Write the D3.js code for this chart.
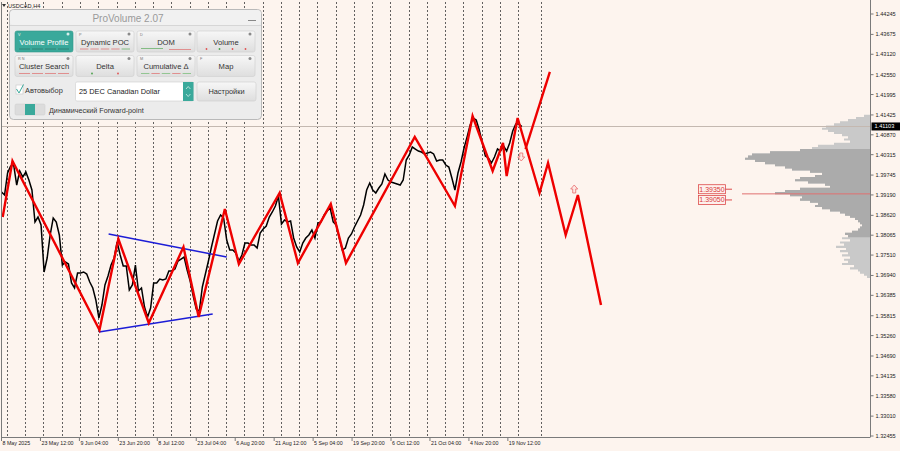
<!DOCTYPE html>
<html>
<head>
<meta charset="utf-8">
<script src="https://cdn.jsdelivr.net/npm/d3@7"></script>
<style>
  body { margin: 0; background: #fdf4ee; }
  svg { display: block; font-family: "Liberation Sans", Arial, sans-serif; }
</style>
</head>
<body>
<svg id="chart" width="900" height="451"></svg>
<script>
// USDCAD H4 with zigzag + ProVolume overlay

const symbolName = "USDCAD,H4";

const barStep = 5;
const closes = [
  1.39272, 1.39188, 1.39803, 1.39998, 1.40026, 1.39467, 1.39859, 1.39691, 1.39831, 1.39607,
  1.39328, 1.38434, 1.38573, 1.38350, 1.37037, 1.37428, 1.38071, 1.38546, 1.38434, 1.38071,
  1.37232, 1.37316, 1.37260, 1.36730, 1.36590, 1.37009, 1.37009, 1.37037, 1.36981, 1.36758,
  1.36590, 1.36255, 1.35752, 1.36115, 1.36674, 1.36925, 1.37232, 1.37428, 1.37875, 1.37512,
  1.37205, 1.37205, 1.36534, 1.36674, 1.37232, 1.36506, 1.36590, 1.36059, 1.35780, 1.36031,
  1.36730, 1.36730, 1.36841, 1.36813, 1.36841, 1.37065, 1.37065, 1.37121, 1.37344, 1.37400,
  1.37456, 1.37093, 1.36785, 1.36366, 1.36003, 1.35947, 1.36618, 1.36981, 1.37344, 1.37735,
  1.38099, 1.38462, 1.38629, 1.38546, 1.37931, 1.37652, 1.37652, 1.37568, 1.37344, 1.37512,
  1.37847, 1.37847, 1.37791, 1.37791, 1.37707, 1.38126, 1.38238, 1.38322, 1.38573, 1.38713,
  1.38881, 1.39160, 1.38378, 1.38490, 1.38434, 1.38462, 1.37987, 1.37735, 1.37596, 1.37847,
  1.37987, 1.38071, 1.38210, 1.37987, 1.38406, 1.38434, 1.38629, 1.38741, 1.38825, 1.38434,
  1.38350, 1.37987, 1.37652, 1.37707, 1.37987, 1.38099, 1.38294, 1.38462, 1.38629, 1.38909,
  1.39328, 1.39523, 1.39328, 1.39244, 1.39384, 1.39495, 1.39775, 1.39607, 1.39551, 1.39523,
  1.39495, 1.39467, 1.39607, 1.40166, 1.40306, 1.40529, 1.40473, 1.40417, 1.40389, 1.40334,
  1.40361, 1.40389, 1.40334, 1.40138, 1.40166, 1.40166, 1.40026, 1.39970, 1.39663, 1.39328,
  1.39803, 1.40110, 1.40501, 1.40809, 1.41144, 1.41339, 1.41283, 1.41004, 1.40641, 1.40278,
  1.40222, 1.40082, 1.40250, 1.40473, 1.40417, 1.40557, 1.40417, 1.40641, 1.40976, 1.41172,
  1.41172, 1.41103
];

// zigzag pivots [bar, price], incl. the projected forward legs
const zigzag = [
  [2, 1.38573], [18, 1.40138], [161, 1.35416], [192, 1.37959], [242, 1.35612],
  [299, 1.37735], [324, 1.35780], [367, 1.38797], [390, 1.37260], [457, 1.39244],
  [487, 1.37288], [541, 1.38937], [566, 1.37288], [679, 1.40809], [745, 1.38881],
  [774, 1.41395], [807, 1.39859], [824, 1.40641], [830, 1.39719], [848, 1.41339],
  [884, 1.39244], [898, 1.40082], [927, 1.38071], [947, 1.39188], [985, 1.36115]
];
const forwardUp = [[861, 1.40473], [901, 1.42625]];
const wedgeUpper = [[176, 1.38099], [370, 1.37456]];
const wedgeLower = [[160, 1.35360], [347, 1.35864]];
const signalUp = [854, 1.40250];
const signalDown = [941, 1.39356];

const priceTicks = [
  1.44245, 1.43675, 1.43120, 1.42550, 1.41995, 1.41425, 1.40870, 1.40315, 1.39745, 1.39190,
  1.38620, 1.38065, 1.37510, 1.36940, 1.36385, 1.35815, 1.35260, 1.34690, 1.34135, 1.33580,
  1.33010, 1.32455
];
const timeLabels = [
  "8 May 2025", "23 May 12:00", "9 Jun 04:00", "23 Jun 20:00", "8 Jul 12:00", "23 Jul 04:00",
  "6 Aug 20:00", "21 Aug 12:00", "5 Sep 04:00", "19 Sep 20:00", "6 Oct 12:00", "21 Oct 04:00",
  "4 Nov 20:00", "19 Nov 12:00"
];
const barsPerLabel = 64;
const barsPerWeek = 30;
const firstWeekBar = 9;
const weekCount = 29;
const lastSeparatorBar = 887;
const totalBars = 1427;

const currentPrice = 1.41103;
const levelLabels = [1.39350, 1.39050];

// volume profile, from the top level down
const profileTop = 1.4140;
const profileStep = 0.0006;
const profileVolumes = [
  6, 14, 22, 30, 36, 44, 48, 42, 36, 28, 22, 26, 20, 36, 52, 58, 70, 100, 118, 122,
  125, 115, 105, 95, 85, 78, 60, 48, 55, 70, 75, 62, 45, 40, 70, 85, 95, 80, 68, 70,
  60, 52, 55, 48, 40, 30, 25, 20, 15, 12, 10, 8, 10, 12, 18, 25, 22, 28, 20, 30,
  26, 34, 24, 30, 22, 28, 20, 26, 22, 28, 16, 20, 12, 10, 6, 3
];
const pocPrice = 1.3922;
const valueAreaHigh = 1.4045;
const valueAreaLow = 1.3800;

const COLOURS = {
  BG: "#fdf4ee",
  PRICE: "#000000",
  ZIGZAG: "#ee0000",
  WEDGE: "#1c1cd6",
  GRID: "#3a3a3a",
  AXIS: "#7a7a7a",
  TEXT: "#222222",
  PROFILE: "#c9c9c9",
  PROFILE_VA: "#ababab",
  TEAL: "#3aa99b"
};

const svg = d3.select("#chart");
const plot = {left: 1.5, right: 870, top: 2, bottom: 437};

const x = d3.scaleLinear().domain([0, totalBars]).range([plot.left, plot.right]);
const y = d3.scaleLinear().domain([1.32455, 1.44245]).range([436, 14]);
const vol = d3.scaleLinear().domain([0, 125]).range([plot.right, plot.right - 125]);

svg.append("rect").attr("width", 900).attr("height", 451).attr("fill", COLOURS.BG);

svg.append("clipPath").attr("id", "plotClip")
  .append("rect")
  .attr("x", plot.left).attr("y", plot.top)
  .attr("width", plot.right - plot.left).attr("height", plot.bottom - plot.top);

const g = svg.append("g").attr("clip-path", "url(#plotClip)");

// weekly separators
const separators = d3.range(weekCount).map(i => firstWeekBar + i * barsPerWeek).concat([lastSeparatorBar]);
g.selectAll(".sep")
  .data(separators)
  .enter().append("line")
  .attr("x1", d => Math.round(x(d)) + 0.5).attr("x2", d => Math.round(x(d)) + 0.5)
  .attr("y1", plot.top).attr("y2", plot.bottom)
  .attr("stroke", COLOURS.GRID).attr("stroke-width", 0.8)
  .attr("stroke-dasharray", "2,2");

// volume profile as stepped outline
const profile = profileVolumes.map((v, i) => ({price: profileTop - i * profileStep, v}));
const half = profileStep / 2;
function profilePath(levels) {
  const pts = [[plot.right, y(levels[0].price + half)]];
  levels.forEach(d => {
    pts.push([vol(d.v), y(d.price + half)]);
    pts.push([vol(d.v), y(d.price - half)]);
  });
  pts.push([plot.right, y(levels[levels.length - 1].price - half)]);
  return d3.line()(pts) + "Z";
}
g.append("path").attr("d", profilePath(profile)).attr("fill", COLOURS.PROFILE);
g.append("path")
  .attr("d", profilePath(profile.filter(d => d.price <= valueAreaHigh && d.price >= valueAreaLow)))
  .attr("fill", COLOURS.PROFILE_VA);

g.append("line")
  .attr("x1", vol(128)).attr("x2", plot.right)
  .attr("y1", y(pocPrice)).attr("y2", y(pocPrice))
  .attr("stroke", "#e07070").attr("stroke-width", 1);

// current price line
g.append("line")
  .attr("x1", plot.left).attr("x2", plot.right)
  .attr("y1", Math.round(y(currentPrice)) + 0.5).attr("y2", Math.round(y(currentPrice)) + 0.5)
  .attr("stroke", "#c4b8b0").attr("stroke-width", 1);

// price
const priceLine = d3.line()
  .x((d, i) => x(i * barStep))
  .y(d => y(d));
g.append("path")
  .datum(closes)
  .attr("fill", "none")
  .attr("stroke", COLOURS.PRICE)
  .attr("stroke-width", 1.5)
  .attr("stroke-linejoin", "miter")
  .attr("d", priceLine);

const pivotLine = d3.line().x(d => x(d[0])).y(d => y(d[1]));

[wedgeUpper, wedgeLower].forEach(seg => {
  g.append("path").datum(seg)
    .attr("fill", "none").attr("stroke", COLOURS.WEDGE).attr("stroke-width", 1.5)
    .attr("d", pivotLine);
});

[zigzag, forwardUp].forEach(seg => {
  g.append("path").datum(seg)
    .attr("fill", "none").attr("stroke", COLOURS.ZIGZAG).attr("stroke-width", 2.4)
    .attr("stroke-linejoin", "miter")
    .attr("d", pivotLine);
});

// hollow signal arrows
function arrow(bar, price, up) {
  const s = up ? -1 : 1;
  const cx = x(bar), cy = y(price);
  const path = `M${cx - 1.5},${cy + 4 * s} L${cx - 1.5},${cy} L${cx - 3.5},${cy} L${cx},${cy - 4 * s} L${cx + 3.5},${cy} L${cx + 1.5},${cy} L${cx + 1.5},${cy + 4 * s} Z`;
  g.append("path").attr("d", path)
    .attr("fill", "#fde8e4").attr("stroke", "#e86a6a").attr("stroke-width", 0.8);
}
arrow(signalUp[0], signalUp[1], true);
arrow(signalDown[0], signalDown[1], false);

// level labels
levelLabels.forEach(p => {
  const ly = y(p);
  g.append("rect")
    .attr("x", 698.5).attr("y", ly - 4.5).attr("width", 27).attr("height", 9)
    .attr("fill", "#fdf0ec").attr("stroke", "#dd4b4b").attr("stroke-width", 0.8);
  g.append("line")
    .attr("x1", 725.5).attr("x2", 732).attr("y1", ly).attr("y2", ly)
    .attr("stroke", "#dd4b4b").attr("stroke-width", 1);
  g.append("text")
    .attr("x", 712).attr("y", ly + 2.3)
    .attr("text-anchor", "middle").attr("font-size", 7).attr("fill", "#d83a3a")
    .text(p.toFixed(5));
});

// frame
svg.append("line").attr("x1", plot.left).attr("x2", plot.left).attr("y1", plot.top).attr("y2", plot.bottom)
  .attr("stroke", COLOURS.AXIS).attr("stroke-width", 1);
svg.append("line").attr("x1", plot.left).attr("x2", plot.right + 0.5).attr("y1", plot.bottom + 0.5).attr("y2", plot.bottom + 0.5)
  .attr("stroke", COLOURS.AXIS).attr("stroke-width", 1);
svg.append("line").attr("x1", plot.right + 0.5).attr("x2", plot.right + 0.5).attr("y1", 0).attr("y2", plot.bottom)
  .attr("stroke", COLOURS.AXIS).attr("stroke-width", 1);

// price axis
const yAxis = svg.append("g").attr("transform", `translate(${plot.right + 0.5},0)`);
priceTicks.forEach(p => {
  yAxis.append("line").attr("x1", 0).attr("x2", 3).attr("y1", y(p)).attr("y2", y(p))
    .attr("stroke", COLOURS.AXIS);
  yAxis.append("text").attr("x", 5).attr("y", y(p) + 2)
    .attr("font-size", 5.6).attr("fill", COLOURS.TEXT).text(p.toFixed(5));
});
yAxis.append("rect").attr("x", 1).attr("y", y(currentPrice) - 4).attr("width", 29).attr("height", 8)
  .attr("fill", "#000");
yAxis.append("text").attr("x", 4).attr("y", y(currentPrice) + 2)
  .attr("font-size", 5.6).attr("fill", "#fff").text(currentPrice.toFixed(5));

// time axis
const xAxis = svg.append("g");
timeLabels.forEach((t, i) => {
  const tx = x(i * barsPerLabel);
  xAxis.append("line").attr("x1", tx).attr("x2", tx).attr("y1", plot.bottom).attr("y2", plot.bottom + 4)
    .attr("stroke", COLOURS.AXIS);
  xAxis.append("text").attr("x", tx + 1).attr("y", 445)
    .attr("font-size", 5.3).attr("fill", COLOURS.TEXT).text(t);
});

// symbol caption
svg.append("path").attr("d", "M2,4 L6,4 L4,7 Z").attr("fill", "#333");
svg.append("text").attr("x", 8).attr("y", 8).attr("font-size", 5.6).attr("fill", COLOURS.TEXT).text(symbolName);

// ProVolume panel
const panel = svg.append("g");
panel.append("rect").attr("x", 9.5).attr("y", 9.5).attr("width", 252).attr("height", 110).attr("rx", 4)
  .attr("fill", "#ececec").attr("stroke", "#b9b9b9");
panel.append("rect").attr("x", 10).attr("y", 10).attr("width", 251).attr("height", 15).attr("rx", 4)
  .attr("fill", "#f1f1f1");
panel.append("line").attr("x1", 10).attr("x2", 261).attr("y1", 25.5).attr("y2", 25.5).attr("stroke", "#d6d6d6");
panel.append("text").attr("x", 128).attr("y", 21.5).attr("text-anchor", "middle")
  .attr("font-size", 10).attr("fill", "#9a9a9a").text("ProVolume 2.07");
panel.append("line").attr("x1", 248).attr("x2", 256).attr("y1", 20.5).attr("y2", 20.5).attr("stroke", "#888").attr("stroke-width", 1);

const buttons = [
  {label: "Volume Profile", tag: "V", active: true, marks: ["#2d7a6c", "#2d7a6c", "#2d7a6c", "#2d7a6c"]},
  {label: "Dynamic POC", tag: "P", marks: ["#e07a7a", "#e07a7a", "#e07a7a", "#e07a7a", "#6cb36c"]},
  {label: "DOM", tag: "D", bars: ["#6cb36c", "#e07a7a"]},
  {label: "Volume", dots: ["#e05050", "#4aa04a", "#e05050", "#e05050"]},
  {label: "Cluster Search", tag: "R N", marks: ["#e07a7a", "#e07a7a", "#e07a7a", "#e07a7a"]},
  {label: "Delta", dots: ["#4aa04a", "#e05050"]},
  {label: "Cumulative \u0394", tag: "M", marks: ["#7fbf7f", "#e07a7a", "#7fbf7f", "#e07a7a", "#7fbf7f"]},
  {label: "Map", tag: "F"}
];
const bw = 58, bh = 21;
const bx = [15, 76, 137, 197];
const by = [31, 55.5];
const grad = svg.append("defs").append("linearGradient").attr("id", "btnGrad")
  .attr("x1", 0).attr("x2", 0).attr("y1", 0).attr("y2", 1);
grad.append("stop").attr("offset", "0%").attr("stop-color", "#f7f7f7");
grad.append("stop").attr("offset", "100%").attr("stop-color", "#dedede");

buttons.forEach((b, i) => {
  const x0 = bx[i % 4], y0 = by[Math.floor(i / 4)];
  const bg = panel.append("g").attr("transform", `translate(${x0},${y0})`);
  bg.append("rect").attr("width", bw).attr("height", bh).attr("rx", 2)
    .attr("fill", b.active ? COLOURS.TEAL : "url(#btnGrad)")
    .attr("stroke", b.active ? "#34998c" : "#cfcfcf").attr("stroke-width", 0.6);
  if (b.tag) {
    bg.append("text").attr("x", 3).attr("y", 4.5).attr("font-size", 3.8)
      .attr("fill", b.active ? "#e8f6f4" : "#777").text(b.tag);
  }
  bg.append("circle").attr("cx", bw - 5).attr("cy", 3).attr("r", 1.5)
    .attr("fill", b.active ? "#d8efec" : "#8a8a8a");
  bg.append("text").attr("x", bw / 2).attr("y", 13.5).attr("text-anchor", "middle")
    .attr("font-size", 7.6).attr("fill", b.active ? "#fff" : "#333").text(b.label);
  if (b.marks) {
    const n = b.marks.length, w = (bw - 6) / n;
    b.marks.forEach((c, k) => {
      bg.append("line").attr("x1", 3 + k * w + 1).attr("x2", 3 + (k + 1) * w - 1)
        .attr("y1", bh - 3).attr("y2", bh - 3).attr("stroke", c).attr("stroke-width", 0.8);
    });
  }
  if (b.bars) {
    bg.append("line").attr("x1", 4).attr("x2", 26).attr("y1", bh - 3.5).attr("y2", bh - 3.5)
      .attr("stroke", b.bars[0]).attr("stroke-width", 0.8);
    bg.append("line").attr("x1", 32).attr("x2", 54).attr("y1", bh - 2.5).attr("y2", bh - 2.5)
      .attr("stroke", b.bars[1]).attr("stroke-width", 0.8);
  }
  if (b.dots) {
    const n = b.dots.length, w = (bw - 6) / n;
    b.dots.forEach((c, k) => {
      bg.append("circle").attr("cx", 3 + (k + 0.5) * w).attr("cy", bh - 3).attr("r", 0.9).attr("fill", c);
    });
  }
});

// auto-select checkbox
panel.append("rect").attr("x", 16).attr("y", 85).attr("width", 7).attr("height", 9)
  .attr("fill", "#fff").attr("stroke", "#c6c6c6").attr("stroke-width", 0.6);
panel.append("path").attr("d", "M16.5,89 L19,93 L23.5,84.5").attr("fill", "none")
  .attr("stroke", COLOURS.TEAL).attr("stroke-width", 1);
panel.append("text").attr("x", 25).attr("y", 93).attr("font-size", 7.4).attr("fill", "#333").text("Автовыбор");

// contract dropdown
panel.append("rect").attr("x", 75.5).attr("y", 82).attr("width", 118).attr("height", 19).attr("rx", 1.5)
  .attr("fill", "#fff").attr("stroke", "#cfcfcf").attr("stroke-width", 0.6);
panel.append("rect").attr("x", 183).attr("y", 82).attr("width", 10.5).attr("height", 19)
  .attr("fill", COLOURS.TEAL);
panel.append("path").attr("d", "M186,89 L188.2,86.5 L190.4,89 M186,94 L188.2,96.5 L190.4,94")
  .attr("fill", "none").attr("stroke", "#e6f5f2").attr("stroke-width", 0.7);
panel.append("text").attr("x", 79).attr("y", 94).attr("font-size", 7.4).attr("fill", "#222")
  .text("25 DEC Canadian Dollar");

// settings button
panel.append("rect").attr("x", 197).attr("y", 82).attr("width", 59).attr("height", 19).attr("rx", 2)
  .attr("fill", "url(#btnGrad)").attr("stroke", "#cfcfcf").attr("stroke-width", 0.6);
panel.append("text").attr("x", 226.5).attr("y", 94).attr("text-anchor", "middle")
  .attr("font-size", 7.4).attr("fill", "#333").text("Настройки");

// forward-point toggle
panel.append("rect").attr("x", 15).attr("y", 104).attr("width", 30).attr("height", 11).attr("rx", 1.5)
  .attr("fill", "#dcdcdc").attr("stroke", "#cdcdcd").attr("stroke-width", 0.5);
panel.append("rect").attr("x", 25).attr("y", 104).attr("width", 10).attr("height", 11)
  .attr("fill", COLOURS.TEAL);
panel.append("text").attr("x", 49).attr("y", 112.5).attr("font-size", 7.2).attr("fill", "#333")
  .text("Динамический Forward-point");
</script>
</body>
</html>
